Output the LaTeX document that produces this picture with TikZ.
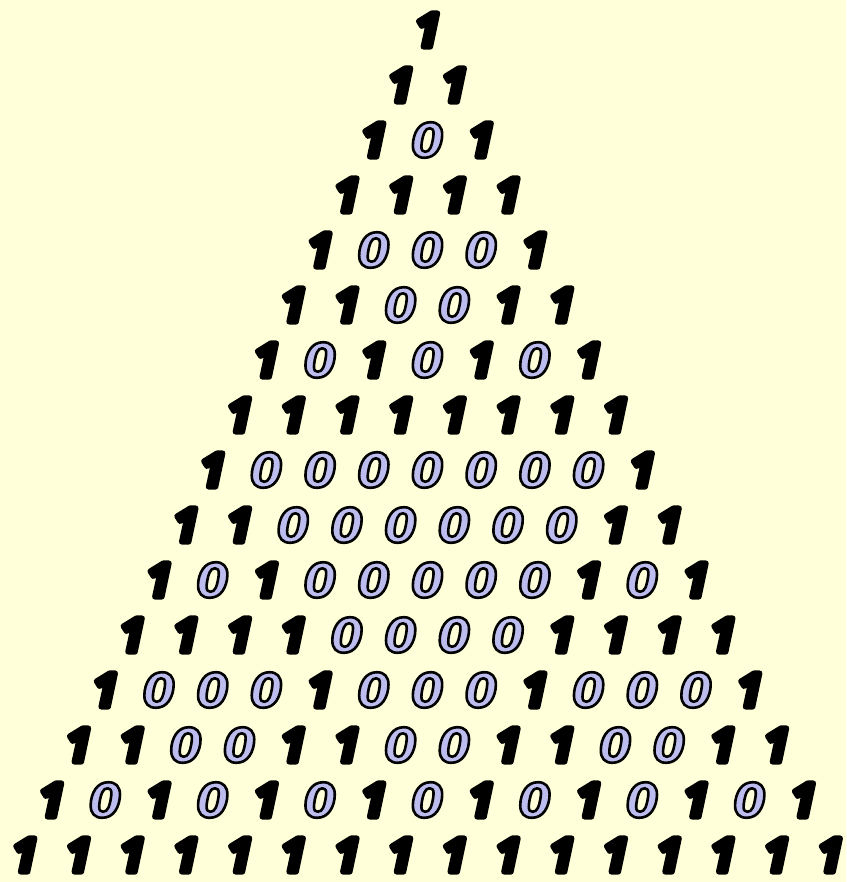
\documentclass[tikz,border=0pt]{standalone}
\usepackage{fontspec}
\setmainfont{Open Sans}
\newfontfamily\zerofont{DejaVu Sans}
\definecolor{paper}{RGB}{255,255,218}
\definecolor{zerofill}{RGB}{188,188,238}
% fill + stroke text render mode, black stroke
\newcommand{\outlined}[3]{\special{pdf:literal direct 2 Tr #3 w 1 j}\textcolor{#1}{\special{pdf:literal direct 0 0 0 RG}#2}\special{pdf:literal direct 0 Tr}}
\newcommand{\digitglyph}[1]{\ifnum#1=1 \outlined{black}{1}{5.5}\else\outlined{zerofill}{\zerofont 0}{2.6}\fi}
\tikzset{digit/.style={inner sep=0pt, font=\fontsize{47}{47}\selectfont\bfseries\itshape}}

\begin{document}
\begin{tikzpicture}[x=1pt, y=-1pt]
            \fill[paper] (0,0) rectangle (846,882);
            \useasboundingbox (0,0) rectangle (846,882);
            % rows of the triangle, mod 2
            \foreach \row [count=\r from 0] in {{1},{1,1},{1,0,1},{1,1,1,1},{1,0,0,0,1},{1,1,0,0,1,1},
                {1,0,1,0,1,0,1},{1,1,1,1,1,1,1,1},{1,0,0,0,0,0,0,0,1},{1,1,0,0,0,0,0,0,1,1},
                {1,0,1,0,0,0,0,0,1,0,1},{1,1,1,1,0,0,0,0,1,1,1,1},{1,0,0,0,1,0,0,0,1,0,0,0,1},
                {1,1,0,0,1,1,0,0,1,1,0,0,1,1},{1,0,1,0,1,0,1,0,1,0,1,0,1,0,1},
                {1,1,1,1,1,1,1,1,1,1,1,1,1,1,1,1}}{
              \foreach \d [count=\k from 0] in \row {
                \node[digit] (d-\r-\k) at ({427.5+(\k-\r/2)*53.7}, {30+55*\r}) {\digitglyph{\d}};
              }
            }
        \end{tikzpicture}
\end{document}
